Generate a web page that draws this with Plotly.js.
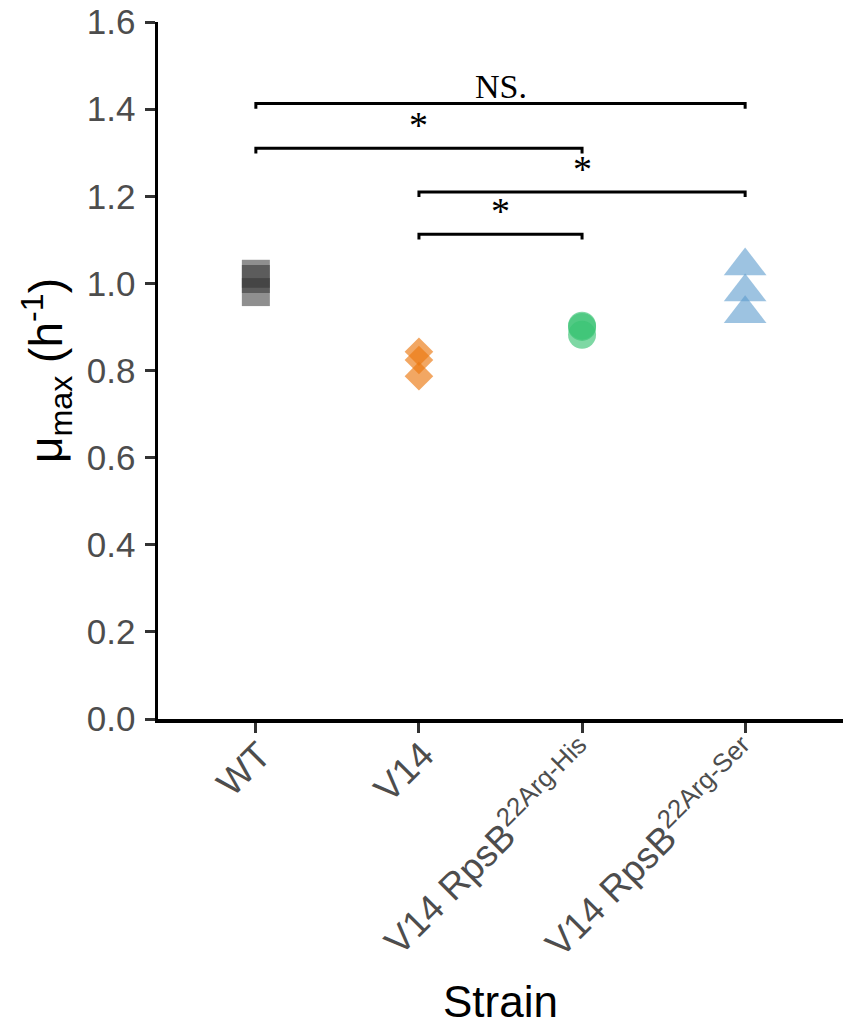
<!DOCTYPE html>
<html>
<head>
<meta charset="utf-8">
<script src="https://cdn.plot.ly/plotly-3.0.1.min.js"></script>
<style>
  html, body { margin: 0; padding: 0; background: #fff; }
  #chart { width: 851px; height: 1035px; }
</style>
</head>
<body>
<div id="chart"></div>
<script>
  // strains (x positions 1..4) and their tick labels
  const strainPos = [1, 2, 3, 4];
  const tickLabels = [
    'WT',
    'V14',
    'V14 RpsB<sup>22Arg-His</sup>',
    'V14 RpsB<sup>22Arg-Ser</sup>'
  ];

  // growth rate replicates, mu max (h^-1)
  const wtVals  = [1.022, 1.010, 0.980];
  const v14Vals = [0.843, 0.824, 0.787];
  const hisVals = [0.903, 0.900, 0.882];
  const serVals = [1.040, 0.980, 0.930];

  // significance brackets
  const brFrom   = [1, 1, 2, 2];
  const brTo     = [4, 3, 4, 3];
  const brY      = [1.413, 1.310, 1.210, 1.113];
  const brLabels = ['NS.', '*', '*', '*'];

  const yTicks = [0, 0.2, 0.4, 0.6, 0.8, 1.0, 1.2, 1.4, 1.6];

  function group(pos, vals, symbol, size, color) {
    return {
      x: vals.map(() => pos),
      y: vals,
      type: 'scatter',
      mode: 'markers',
      marker: {symbol: symbol, size: size, color: color, line: {width: 0}},
      hoverinfo: 'y',
      showlegend: false
    };
  }

  const traces = [
    group(strainPos[0], wtVals,  'square',      28, 'rgba(51,51,51,0.55)'),
    group(strainPos[1], v14Vals, 'diamond',     22, 'rgba(235,120,15,0.65)'),
    group(strainPos[2], hisVals, 'circle',      28, 'rgba(57,195,115,0.65)'),
    group(strainPos[3], serVals, 'triangle-up', 37, 'rgba(92,155,205,0.6)')
  ];

  const tip = 0.012;
  const annotations = [];
  brY.forEach((y, i) => {
    traces.push({
      x: [brFrom[i], brFrom[i], brTo[i], brTo[i]],
      y: [y - tip, y, y, y - tip],
      type: 'scatter',
      mode: 'lines',
      line: {color: '#000', width: 3},
      hoverinfo: 'skip',
      showlegend: false
    });
    const star = brLabels[i] === '*';
    annotations.push({
      x: (brFrom[i] + brTo[i]) / 2,
      y: y,
      xref: 'x', yref: 'y',
      text: brLabels[i],
      showarrow: false,
      yanchor: 'bottom',
      yshift: star ? 0 : -4,
      font: {family: 'Liberation Serif, Times New Roman, serif', size: star ? 38 : 34, color: '#000'}
    });
  });

  const layout = {
    width: 851,
    height: 1035,
    margin: {l: 158, r: 8, t: 22, b: 316},
    paper_bgcolor: '#fff',
    plot_bgcolor: '#fff',
    font: {family: 'Liberation Sans, Arial, sans-serif'},
    xaxis: {
      range: [0.4, 4.6],
      tickmode: 'array',
      tickvals: strainPos,
      ticktext: tickLabels,
      tickangle: -45,
      tickfont: {size: 37, color: '#4d4d4d'},
      ticks: 'outside',
      ticklen: 10,
      tickwidth: 3,
      tickcolor: '#333',
      ticklabelstandoff: -14,
      ticklabelshift: 4,
      showline: true,
      linecolor: '#000',
      linewidth: 3.5,
      showgrid: false,
      zeroline: false,
      fixedrange: true,
      title: {text: 'Strain', font: {size: 44, color: '#000'}, standoff: 24}
    },
    yaxis: {
      range: [0, 1.6],
      tickmode: 'array',
      tickvals: yTicks,
      ticktext: yTicks.map(v => v.toFixed(1)),
      tickfont: {size: 35, color: '#4d4d4d'},
      ticks: 'outside',
      ticklen: 10,
      tickwidth: 3,
      tickcolor: '#333',
      ticklabelstandoff: 2,
      showline: true,
      linecolor: '#000',
      linewidth: 3.5,
      showgrid: false,
      zeroline: false,
      fixedrange: true,
      title: {text: 'μ<sub>max</sub> (h<sup>-1</sup>)', font: {size: 46, color: '#000'}, standoff: 10}
    },
    annotations: annotations
  };

  Plotly.newPlot('chart', traces, layout, {displayModeBar: false, staticPlot: true});
</script>
</body>
</html>
